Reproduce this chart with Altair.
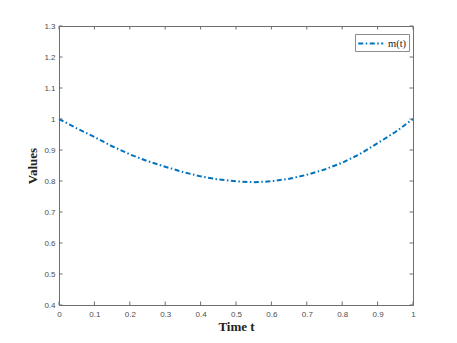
import altair as alt
import pandas as pd

# ---- data ----
t_values = [0.0, 0.05, 0.1, 0.15, 0.2, 0.25, 0.3, 0.35, 0.4, 0.45, 0.5,
            0.55, 0.6, 0.65, 0.7, 0.75, 0.8, 0.85, 0.9, 0.95, 1.0]
m_values = [1.000, 0.970, 0.942, 0.912, 0.886, 0.864, 0.846, 0.829, 0.815, 0.805, 0.799,
            0.796, 0.799, 0.807, 0.820, 0.837, 0.859, 0.887, 0.922, 0.958, 1.000]
series_name = "m(t)"
x_ticks = [0, 0.1, 0.2, 0.3, 0.4, 0.5, 0.6, 0.7, 0.8, 0.9, 1]
y_ticks = [0.4, 0.5, 0.6, 0.7, 0.8, 0.9, 1.0, 1.1, 1.2, 1.3]

df = pd.DataFrame({"t": t_values, "m": m_values, "series": [series_name] * len(t_values)})
xt = pd.DataFrame({"t": x_ticks})
yt = pd.DataFrame({"m": y_ticks})

W, H = 354, 279
TL = 3.5
AX = "#6e6e6e"
LBL = "#4d4d4d"

x_scale = alt.Scale(domain=[0, 1], nice=False)
y_scale = alt.Scale(domain=[0.4, 1.3], nice=False, zero=False)
x_axis = alt.Axis(values=x_ticks, format="~g", title="Time t", grid=False,
                  tickSize=0, labelPadding=5, titlePadding=2, labelFlush=False)
y_axis = alt.Axis(values=y_ticks, format="~g", title="Values", grid=False,
                  tickSize=0, labelPadding=4, titlePadding=4, labelFlush=False)

line = alt.Chart(df).mark_line(
    strokeWidth=2, strokeDash=[5, 2.5, 1.5, 2.5], strokeCap="butt"
).encode(
    x=alt.X("t:Q", scale=x_scale, axis=x_axis),
    y=alt.Y("m:Q", scale=y_scale, axis=y_axis),
    color=alt.Color("series:N", scale=alt.Scale(range=["#0072BD"]),
                    legend=alt.Legend(title=None, orient="none", legendX=296, legendY=8,
                                      symbolType="M-1,0H3", symbolSize=156,
                                      symbolStrokeWidth=2, symbolDash=[5, 2.5, 1.5, 2.5],
                                      strokeColor="#8c8c8c", fillColor="white",
                                      padding=2, labelFont="Liberation Serif",
                                      labelFontSize=10.5, labelColor="#222",
                                      labelOffset=16)),
)

xb = alt.Chart(xt).mark_rule(color=AX, strokeWidth=1).encode(
    x=alt.X("t:Q", scale=x_scale, axis=x_axis), y=alt.value(H), y2=alt.value(H - TL))
xtop = alt.Chart(xt).mark_rule(color=AX, strokeWidth=1).encode(
    x=alt.X("t:Q", scale=x_scale, axis=x_axis), y=alt.value(0), y2=alt.value(TL))
yl = alt.Chart(yt).mark_rule(color=AX, strokeWidth=1).encode(
    y=alt.Y("m:Q", scale=y_scale, axis=y_axis), x=alt.value(0), x2=alt.value(TL))
yr = alt.Chart(yt).mark_rule(color=AX, strokeWidth=1).encode(
    y=alt.Y("m:Q", scale=y_scale, axis=y_axis), x=alt.value(W), x2=alt.value(W - TL))

chart = alt.layer(line, xb, xtop, yl, yr).properties(
    width=W, height=H,
    autosize=alt.AutoSizeParams(type="none"),
    padding={"left": 51, "top": 18, "right": 36, "bottom": 30},
).configure_view(
    stroke=AX, strokeWidth=1
).configure_axis(
    domainColor=AX, domainWidth=1,
    labelFont="Liberation Sans", labelFontSize=8, labelColor=LBL,
    titleFont="Liberation Serif", titleFontSize=13, titleFontWeight="bold",
    titleColor="#222"
)

chart.save("out.html", embed_options={"renderer": "svg", "actions": False})
